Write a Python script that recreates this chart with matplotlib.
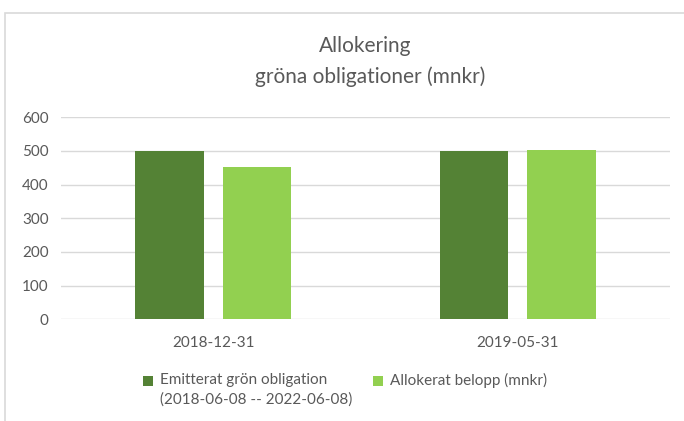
import matplotlib
matplotlib.use('Agg')
import matplotlib.pyplot as plt
from matplotlib.patches import Rectangle
import numpy as np

plt.rcParams['font.family'] = ['Lato', 'DejaVu Sans']

categories = ['2018-12-31', '2019-05-31']
emitterat = [500, 500]
allokerat = [453, 503]
series_labels = ['Emitterat grön obligation\n(2018-06-08 -- 2022-06-08)',
                 'Allokerat belopp (mnkr)']
yticks = [0, 100, 200, 300, 400, 500, 600]

text_color = '#595959'
dark_green = '#548235'
light_green = '#92D050'

W, H = 684, 421
fig = plt.figure(figsize=(W / 100, H / 100), dpi=100)
ax = fig.add_axes([61/W, 1 - 319.3/H, 609/W, 202/H])

# light grey chart frame
fig.patches.append(Rectangle((5/W, -0.1), 1.1, 1 - 13/H + 0.1,
                             transform=fig.transFigure, fill=False,
                             edgecolor='#D9D9D9', linewidth=1.2))

x = np.arange(len(categories))
width = 0.224
offset = 0.144
b1 = ax.bar(x - offset, emitterat, width, color=dark_green, zorder=3)
b2 = ax.bar(x + offset, allokerat, width, color=light_green, zorder=3)

ax.set_xlim(-0.5, len(categories) - 0.5)
ax.set_ylim(0, 600)
ax.set_yticks(yticks)
ax.set_xticks(x)
ax.set_xticklabels(categories)
ax.tick_params(length=0, colors=text_color, labelsize=11)
ax.tick_params(axis='y', pad=9)
ax.tick_params(axis='x', pad=12)
ax.grid(axis='y', color='#D9D9D9', linewidth=1, zorder=0)
for s in ax.spines.values():
    s.set_visible(False)

fig.text(365/W, 1 - 46/H, 'Allokering', ha='center', va='center',
         fontsize=15, color=text_color)
fig.text(370/W, 1 - 77/H, 'gröna obligationer (mnkr)', ha='center', va='center',
         fontsize=15, color=text_color)

# legend drawn by hand so the markers sit on the first text line
for (mx, tx), bars, label in zip([(143, 160), (373, 390)], [b1, b2], series_labels):
    fig.patches.append(Rectangle((mx/W, 1 - 386/H), 10/W, 10/H,
                                 transform=fig.transFigure,
                                 facecolor=bars.patches[0].get_facecolor(),
                                 edgecolor='none'))
    fig.text(tx/W, 1 - 373/H, label, ha='left', va='top', fontsize=11,
             color=text_color, linespacing=1.5)

fig.savefig('out.png', dpi=100)
